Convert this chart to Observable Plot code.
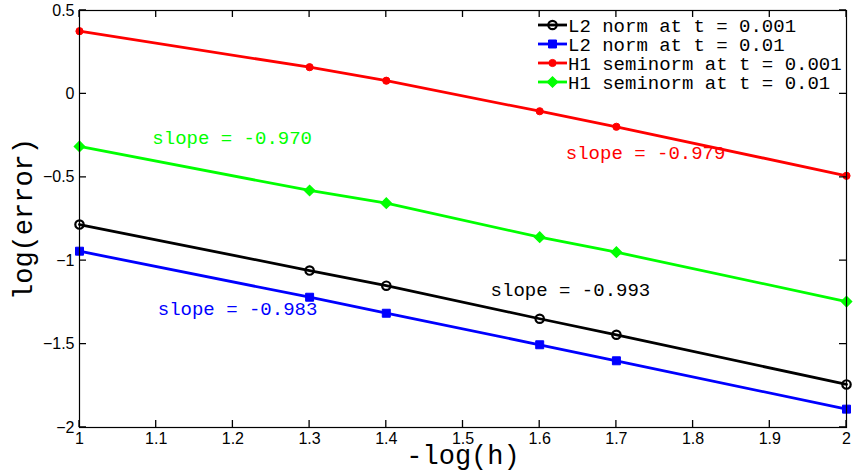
<!DOCTYPE html>
<html>
<head>
<meta charset="utf-8">
<script src="https://cdn.jsdelivr.net/npm/d3@7"></script>
<script src="https://cdn.jsdelivr.net/npm/@observablehq/plot@0.6"></script>
<style>
  body { margin: 0; background: #fff; }
  #chart svg { display: block; }
</style>
</head>
<body>
<div id="chart"></div>
<script>
// Mesh refinement levels, -log(h)
const logInvH = [1, 1.3, 1.4, 1.6, 1.7, 2];

// log(error) for each norm / final time
const l2AtT0001 = [-0.783, -1.059, -1.150, -1.348, -1.444, -1.742];
const l2AtT001  = [-0.943, -1.219, -1.315, -1.504, -1.600, -1.890];
const h1AtT0001 = [0.376, 0.160, 0.079, -0.104, -0.197, -0.491];
const h1AtT001  = [-0.315, -0.579, -0.655, -0.859, -0.949, -1.245];

const seriesNames = [
  "L2 norm at t = 0.001",
  "L2 norm at t = 0.01",
  "H1 seminorm at t = 0.001",
  "H1 seminorm at t = 0.01"
];

// Fitted convergence slopes
const slopes = [-0.993, -0.983, -0.979, -0.970];

// Where each slope annotation starts, in data units [x, y]
const slopeLabelAt = [[1.536, -1.173], [1.102, -1.287], [1.634, -0.351], [1.095, -0.261]];

const xTicks = [1, 1.1, 1.2, 1.3, 1.4, 1.5, 1.6, 1.7, 1.8, 1.9, 2];
const yTicks = [-2, -1.5, -1, -0.5, 0, 0.5];

// Drawing styles per series
const colors  = ["#000000", "#0000ff", "#ff0000", "#00ff00"];
const symbols = ["circle", "square", "circle", "diamond2"];
const radii   = [4.2, 4.5, 3.6, 4.6];
const fills   = ["none", "#0000ff", "#ff0000", "#00ff00"];
const markerStroke = [2.2, 1, 1, 1.4];

const values = [l2AtT0001, l2AtT001, h1AtT0001, h1AtT001];
const rows = values.flatMap((vals, s) =>
  vals.map((v, i) => ({series: s, x: logInvH[i], y: v})));
const labels = slopes.map((m, s) => ({
  series: s, x: slopeLabelAt[s][0], y: slopeLabelAt[s][1],
  text: `slope = ${m.toFixed(3)}`
}));

const W = 854, H = 476;
const mL = 79, mR = 8, mT = 10, mB = 49;
const tickLen = 7;
const mono = "'Liberation Mono', 'DejaVu Sans Mono', monospace";
const minus = d => (d < 0 ? "\u2212" + String(-d) : String(d));

const marks = [];
for (let s = 0; s < 4; s++) {
  const d = rows.filter(r => r.series === s);
  marks.push(Plot.line(d, {x: "x", y: "y", stroke: colors[s], strokeWidth: 2.8}));
}
for (let s = 0; s < 4; s++) {
  const d = rows.filter(r => r.series === s);
  marks.push(Plot.dot(d, {
    x: "x", y: "y", symbol: () => symbols[s], r: radii[s],
    fill: fills[s], stroke: colors[s], strokeWidth: markerStroke[s]
  }));
}
for (let s = 0; s < 4; s++) {
  marks.push(Plot.text(labels.filter(l => l.series === s), {
    x: "x", y: "y", text: "text", fill: colors[s], textAnchor: "start",
    fontFamily: mono, fontSize: 19
  }));
}

const chart = Plot.plot({
  width: W, height: H,
  marginLeft: mL, marginRight: mR, marginTop: mT, marginBottom: mB,
  style: {fontFamily: "'Liberation Sans', Arial, sans-serif", fontSize: "16px", background: "#fff"},
  x: {domain: [1, 2]},
  y: {domain: [-2, 0.5]},
  symbol: {type: "identity"},
  marks: [
    ...marks,
    Plot.frame({stroke: "black", strokeWidth: 1.2}),
    Plot.axisX(xTicks, {anchor: "bottom", tickSize: 0, tickPadding: 5, tickFormat: d => String(d), label: null, fontSize: 16}),
    Plot.axisY(yTicks, {anchor: "left", tickSize: 0, tickPadding: 5, tickFormat: minus, label: null, fontSize: 16}),
    Plot.text(["-log(h)"], {frameAnchor: "bottom", dy: 28, lineAnchor: "middle", textAnchor: "middle", fontFamily: mono, fontSize: 27, fill: "black"}),
    Plot.text(["log(error)"], {frameAnchor: "left", dx: -56, rotate: -90, lineAnchor: "middle", textAnchor: "middle", fontFamily: mono, fontSize: 27, fill: "black"})
  ]
});

const svg = d3.select(chart);

// Inward-pointing tick marks on all four sides of the axes box,
// placed with the chart's own x and y scales
const xInfo = chart.scale("x"), yInfo = chart.scale("y");
const sx = d3.scaleLinear(xInfo.domain, xInfo.range);
const sy = d3.scaleLinear(yInfo.domain, yInfo.range);
const [boxLeft, boxRight] = xInfo.range;
const boxBottom = yInfo.range[0], boxTop = yInfo.range[1];
const tickPath = d3.path();
xTicks.forEach(v => {
  const px = sx(v);
  tickPath.moveTo(px, boxBottom); tickPath.lineTo(px, boxBottom - tickLen);
  tickPath.moveTo(px, boxTop); tickPath.lineTo(px, boxTop + tickLen);
});
yTicks.forEach(v => {
  const py = sy(v);
  tickPath.moveTo(boxLeft, py); tickPath.lineTo(boxLeft + tickLen, py);
  tickPath.moveTo(boxRight, py); tickPath.lineTo(boxRight - tickLen, py);
});
svg.append("path")
  .attr("d", tickPath.toString())
  .attr("fill", "none")
  .attr("stroke", "#000")
  .attr("stroke-width", 1.3);

// Legend in the upper-right corner of the axes
const legend = svg.append("g").attr("transform", "translate(538,25)");
seriesNames.forEach((name, s) => {
  const g = legend.append("g").attr("transform", `translate(0,${s * 19})`);
  g.append("line").attr("x1", 0).attr("x2", 29).attr("y1", 0).attr("y2", 0)
    .attr("stroke", colors[s]).attr("stroke-width", 2.8);
  const symType = {circle: d3.symbolCircle, square: d3.symbolSquare, diamond2: d3.symbolDiamond2}[symbols[s]];
  g.append("path")
    .attr("d", d3.symbol(symType, Math.PI * radii[s] * radii[s])())
    .attr("transform", "translate(14.5,0)")
    .attr("fill", fills[s]).attr("stroke", colors[s]).attr("stroke-width", markerStroke[s]);
  g.append("text").attr("x", 30).attr("y", 0).attr("dy", "0.35em")
    .attr("text-anchor", "start")
    .attr("font-family", mono).attr("font-size", 19).attr("fill", "#000")
    .text(name);
});

document.getElementById("chart").append(chart);
</script>
</body>
</html>
